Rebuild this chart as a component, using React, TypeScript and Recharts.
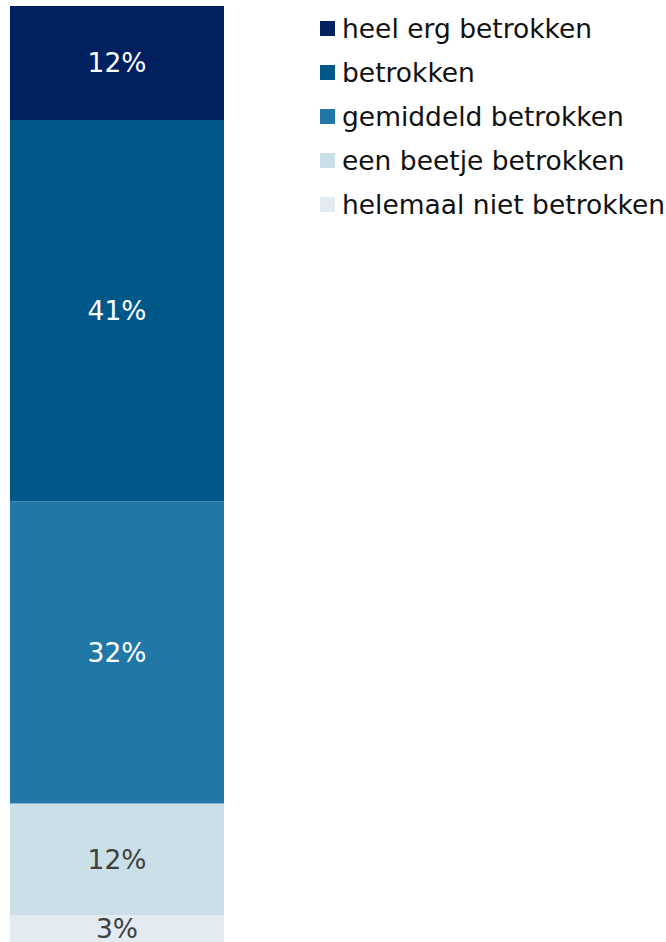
import { Bar, BarChart, LabelList, XAxis, YAxis } from "recharts";

// one stacked column, bottom segment first
const categories = ["totaal"];
const seriesNames = [
  "helemaal niet betrokken",
  "een beetje betrokken",
  "gemiddeld betrokken",
  "betrokken",
  "heel erg betrokken",
];
const seriesValues = [2.9, 11.9, 32.3, 40.8, 12.2];
const seriesColors = ["#E2EBF2", "#CBDFE8", "#2178A6", "#00578A", "#002060"];
const labelColors = ["#404040", "#404040", "#FFFFFF", "#FFFFFF", "#FFFFFF"];

const data = categories.map((name) => {
  const row: Record<string, string | number> = { name };
  seriesNames.forEach((s, i) => {
    row[s] = seriesValues[i];
  });
  return row;
});

const FONT = "'DejaVu Sans', Verdana, sans-serif";
const FONT_SIZE = 26.5;

function LegendBox() {
  const items = seriesNames.map((n, i) => ({ name: n, color: seriesColors[i] })).reverse();
  return (
    <div style={{ fontFamily: FONT, fontSize: FONT_SIZE, color: "#111" }}>
      {items.map((it) => (
        <div key={it.name} style={{ display: "flex", alignItems: "center", height: 44 }}>
          <span
            style={{
              display: "inline-block",
              width: 15,
              height: 15,
              background: it.color,
              marginRight: 7,
            }}
          />
          <span style={{ whiteSpace: "nowrap" }}>{it.name}</span>
        </div>
      ))}
    </div>
  );
}

export default function App() {
  return (
    <div style={{ position: "absolute", left: 0, top: 0, width: 666, height: 942, background: "#fff" }}>
      <BarChart
        width={666}
        height={942}
        data={data}
        margin={{ top: 6, right: 442, bottom: 0, left: 10 }}
        barCategoryGap={0}
      >
        <XAxis dataKey="name" hide />
        <YAxis hide domain={[0, 100]} />
        {seriesNames.map((s, i) => (
          <Bar key={s} dataKey={s} stackId="a" fill={seriesColors[i]} isAnimationActive={false}>
            <LabelList
              dataKey={s}
              position="center"
              fill={labelColors[i]}
              fontSize={FONT_SIZE}
              fontFamily={FONT}
              formatter={(v: number) => `${Math.round(v)}%`}
            />
          </Bar>
        ))}
      </BarChart>
      <div style={{ position: "absolute", left: 320, top: 6 }}>
        <LegendBox />
      </div>
    </div>
  );
}
